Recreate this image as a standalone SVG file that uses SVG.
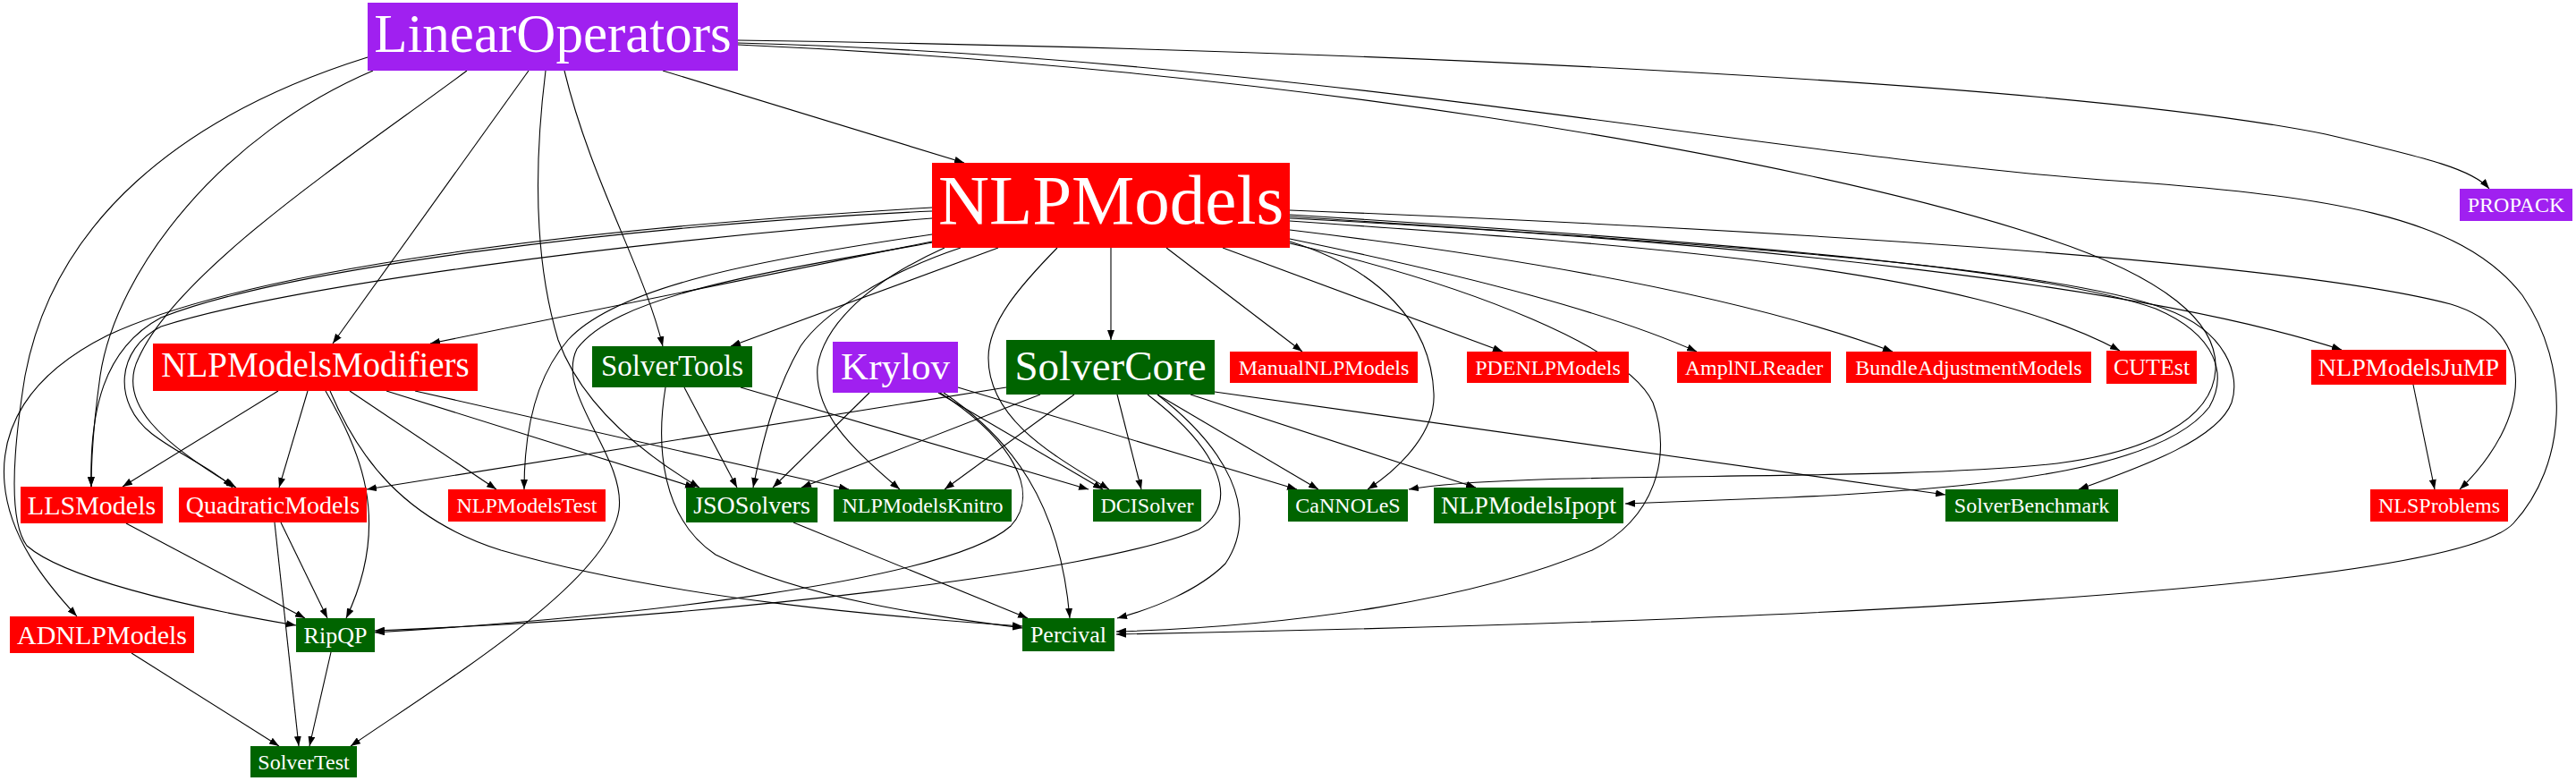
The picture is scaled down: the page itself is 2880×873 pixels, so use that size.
<svg xmlns="http://www.w3.org/2000/svg" width="2880" height="873" viewBox="0 0 2880 873">
<defs>
<style>
.e{fill:none;stroke:#000;stroke-width:1.1;marker-end:url(#ah)}
.p{fill:#a020f0}
.r{fill:#ff0000}
.g{fill:#006400}
text{font-family:"Liberation Serif","Times New Roman",serif;fill:#fff;text-anchor:middle}
</style>
<marker id="ah" markerWidth="11" markerHeight="8" refX="11" refY="4" orient="auto" markerUnits="userSpaceOnUse"><path d="M0,0 L11,4 L0,8 z" fill="#000"/></marker>
</defs>
<rect width="2880" height="873" fill="#fff"/>
<g id="edges">
<path class="e" d="M741,79 L1078,182"/>
<path class="e" d="M825,45 C1500,55 2300,90 2600,150 C2720,178 2765,190 2783,211"/>
<path class="e" d="M825,48 C1450,65 1950,170 2350,201 C2600,218 2750,240 2820,330 C2875,410 2870,520 2810,585 C2740,660 2000,695 1248,709"/>
<path class="e" d="M825,50 C1400,75 2000,170 2290,267 C2420,310 2480,360 2477,413 C2474,470 2400,505 2300,518 C2100,540 1700,525 1575,547"/>
<path class="e" d="M591,79 L372,384"/>
<path class="e" d="M631,79 C660,200 720,300 741,387"/>
<path class="e" d="M417,79 C250,150 130,300 112,420 C105,470 102,510 102,544"/>
<path class="e" d="M522,79 C400,170 200,300 155,400 C130,450 180,495 264,545"/>
<path class="e" d="M411,64 C200,130 60,250 28,420 C15,500 8,580 30,610 C70,645 200,677 331,699"/>
<path class="e" d="M610,79 C595,200 600,300 624,380 C655,465 740,520 782,545"/>
<path class="e" d="M1242,277 L1242,380"/>
<path class="e" d="M1304,277 L1456,393"/>
<path class="e" d="M1367,277 L1680,393"/>
<path class="e" d="M1442,267 C1650,310 1800,350 1897,393"/>
<path class="e" d="M1442,257 C1800,300 2000,350 2116,393"/>
<path class="e" d="M1442,247 C1850,275 2200,300 2370,392"/>
<path class="e" d="M1442,244 C1950,270 2400,320 2618,391"/>
<path class="e" d="M1442,235 C1950,255 2550,290 2740,340 C2840,370 2830,470 2750,547"/>
<path class="e" d="M1442,242 C1950,275 2300,300 2420,345 C2490,370 2505,420 2495,450 C2480,490 2400,520 2324,547"/>
<path class="e" d="M1442,240 C1950,272 2280,300 2410,345 C2480,375 2490,420 2470,455 C2420,520 2250,545 2000,556 C1900,560 1850,562 1817,563"/>
<path class="e" d="M1442,272 C1650,320 1820,390 1848,450 C1870,510 1850,580 1780,615 C1650,670 1450,700 1248,706"/>
<path class="e" d="M1442,270 C1540,300 1600,360 1603,440 C1605,480 1570,520 1529,547"/>
<path class="e" d="M1042,270 L481,384"/>
<path class="e" d="M1116,277 L817,387"/>
<path class="e" d="M1042,232 C650,255 280,300 120,375 C30,420 0,480 5,540 C10,600 50,650 86,689"/>
<path class="e" d="M1042,236 C700,252 320,300 180,355 C115,390 100,460 102,544"/>
<path class="e" d="M1042,244 C700,270 320,320 180,365 C130,390 125,450 170,485 C200,508 240,525 260,545"/>
<path class="e" d="M1042,262 C850,290 690,320 635,380 C600,420 586,480 586,547"/>
<path class="e" d="M1049,270 C850,305 690,330 645,390 C620,440 700,510 692,570 C680,650 500,760 392,834"/>
<path class="e" d="M1074,277 C990,305 920,350 895,387 C870,430 855,480 842,545"/>
<path class="e" d="M1056,277 C960,320 920,370 914,410 C910,460 950,500 1006,547"/>
<path class="e" d="M1182,277 C1140,320 1105,360 1105,400 C1105,470 1180,510 1240,547"/>
<path class="e" d="M765,433 L824,545"/>
<path class="e" d="M828,433 L1217,547"/>
<path class="e" d="M744,433 C733,500 740,580 800,620 C900,670 1050,690 1143,702"/>
<path class="e" d="M311,437 L137,544"/>
<path class="e" d="M344,437 L312,545"/>
<path class="e" d="M364,437 C400,500 440,580 387,691"/>
<path class="e" d="M369,437 C400,510 450,580 560,615 C750,670 1000,690 1143,700"/>
<path class="e" d="M391,437 L555,547"/>
<path class="e" d="M432,437 L777,545"/>
<path class="e" d="M464,437 L949,547"/>
<path class="e" d="M972,439 L864,545"/>
<path class="e" d="M1049,439 L1233,547"/>
<path class="e" d="M1055,439 C1130,490 1185,560 1196,691"/>
<path class="e" d="M1051,439 C1130,490 1165,550 1130,588 C1060,650 700,690 419,707"/>
<path class="e" d="M1071,433 L1450,547"/>
<path class="e" d="M1125,433 L410,547"/>
<path class="e" d="M1163,441 L896,545"/>
<path class="e" d="M1201,441 L1056,547"/>
<path class="e" d="M1249,441 L1276,547"/>
<path class="e" d="M1294,441 L1474,547"/>
<path class="e" d="M1331,441 L1650,545"/>
<path class="e" d="M1358,438 L2175,553"/>
<path class="e" d="M1283,441 C1360,500 1390,560 1340,592 C1230,640 800,690 419,705"/>
<path class="e" d="M1294,441 C1370,500 1410,570 1370,630 C1340,660 1290,680 1249,691"/>
<path class="e" d="M141,585 L341,691"/>
<path class="e" d="M314,584 L366,691"/>
<path class="e" d="M307,584 L334,834"/>
<path class="e" d="M370,729 L346,834"/>
<path class="e" d="M147,730 L312,834"/>
<path class="e" d="M887,584 L1149,691"/>
<path class="e" d="M2698,430 L2722,547"/>
</g>
<g id="LinearOperators"><rect class="p" x="411" y="3" width="414" height="76"/><text x="618" y="58" font-size="61">LinearOperators</text></g>
<g id="NLPModels"><rect class="r" x="1042" y="182" width="400" height="95"/><text x="1242" y="250" font-size="79">NLPModels</text></g>
<g id="PROPACK"><rect class="p" x="2750" y="211" width="126" height="36"/><text x="2813" y="237" font-size="24">PROPACK</text></g>
<g id="NLPModelsModifiers"><rect class="r" x="171" y="384" width="363" height="53"/><text x="352.5" y="421" font-size="39">NLPModelsModifiers</text></g>
<g id="SolverTools"><rect class="g" x="662" y="387" width="179" height="46"/><text x="751.5" y="420" font-size="33">SolverTools</text></g>
<g id="Krylov"><rect class="p" x="931" y="382" width="140" height="57"/><text x="1001" y="424" font-size="43">Krylov</text></g>
<g id="SolverCore"><rect class="g" x="1125" y="380" width="233" height="61"/><text x="1241.5" y="425" font-size="47">SolverCore</text></g>
<g id="ManualNLPModels"><rect class="r" x="1375" y="393" width="210" height="35"/><text x="1480" y="419" font-size="24">ManualNLPModels</text></g>
<g id="PDENLPModels"><rect class="r" x="1640" y="393" width="181" height="35"/><text x="1730.5" y="419" font-size="24">PDENLPModels</text></g>
<g id="AmplNLReader"><rect class="r" x="1875" y="393" width="172" height="35"/><text x="1961" y="419" font-size="24">AmplNLReader</text></g>
<g id="BundleAdjustmentModels"><rect class="r" x="2064" y="393" width="274" height="35"/><text x="2201" y="419" font-size="24">BundleAdjustmentModels</text></g>
<g id="CUTEst"><rect class="r" x="2355" y="392" width="101" height="37"/><text x="2405.5" y="419" font-size="26">CUTEst</text></g>
<g id="NLPModelsJuMP"><rect class="r" x="2584" y="391" width="218" height="39"/><text x="2693" y="420" font-size="28">NLPModelsJuMP</text></g>
<g id="LLSModels"><rect class="r" x="23" y="544" width="159" height="41"/><text x="102.5" y="575" font-size="30">LLSModels</text></g>
<g id="QuadraticModels"><rect class="r" x="200" y="545" width="210" height="39"/><text x="305" y="574" font-size="28">QuadraticModels</text></g>
<g id="NLPModelsTest"><rect class="r" x="501" y="547" width="176" height="36"/><text x="589" y="573" font-size="24">NLPModelsTest</text></g>
<g id="JSOSolvers"><rect class="g" x="767" y="545" width="147" height="39"/><text x="840.5" y="574" font-size="28">JSOSolvers</text></g>
<g id="NLPModelsKnitro"><rect class="g" x="932" y="547" width="199" height="36"/><text x="1031.5" y="573" font-size="24">NLPModelsKnitro</text></g>
<g id="DCISolver"><rect class="g" x="1222" y="547" width="121" height="36"/><text x="1282.5" y="573" font-size="24">DCISolver</text></g>
<g id="CaNNOLeS"><rect class="g" x="1440" y="547" width="134" height="36"/><text x="1507" y="573" font-size="24">CaNNOLeS</text></g>
<g id="NLPModelsIpopt"><rect class="g" x="1603" y="545" width="212" height="40"/><text x="1709" y="574" font-size="28">NLPModelsIpopt</text></g>
<g id="SolverBenchmark"><rect class="g" x="2175" y="547" width="193" height="36"/><text x="2271.5" y="573" font-size="24">SolverBenchmark</text></g>
<g id="NLSProblems"><rect class="r" x="2650" y="547" width="154" height="36"/><text x="2727" y="573" font-size="24">NLSProblems</text></g>
<g id="RipQP"><rect class="g" x="331" y="691" width="88" height="38"/><text x="375" y="719" font-size="26">RipQP</text></g>
<g id="ADNLPModels"><rect class="r" x="11" y="689" width="206" height="41"/><text x="114" y="720" font-size="30">ADNLPModels</text></g>
<g id="Percival"><rect class="g" x="1143" y="691" width="103" height="37"/><text x="1194.5" y="718" font-size="26">Percival</text></g>
<g id="SolverTest"><rect class="g" x="280" y="834" width="119" height="35"/><text x="339.5" y="860" font-size="24">SolverTest</text></g>
</svg>
